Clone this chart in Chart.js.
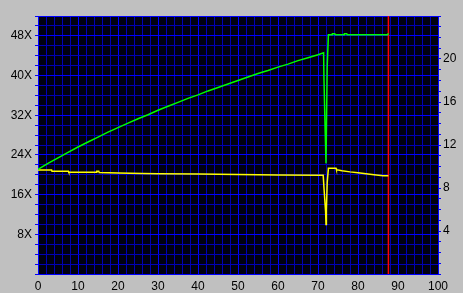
<!DOCTYPE html>
<html>
<head>
<meta charset="utf-8">
<script src="https://cdn.jsdelivr.net/npm/chart.js@4"></script>
<style>
  html, body { margin: 0; padding: 0; background: #c0c0c0; }
  #wrap { width: 463px; height: 293px; }
</style>
</head>
<body>
<div id="wrap"><canvas id="speed-chart" width="463" height="293"></canvas></div>
<script>
// position on disc (%)
const speedPos = [0, 2.5, 5, 7.5, 10, 12.5, 15, 17.5, 20, 22.5, 25, 27.5, 30, 32.5, 35, 37.5, 40,
  42.5, 45, 47.5, 50, 52.5, 55, 57.5, 60, 62.5, 65, 67.5, 70, 71.4, 71.5, 71.8, 72.0, 72.2, 72.3,
  72.6, 73.5, 73.6, 74.2, 74.3, 76.5, 76.6, 77.2, 77.3, 87.4, 87.6];
// transfer speed (X), left axis
const speedValues = [21.1, 22.3, 23.4, 24.5, 25.6, 26.6, 27.6, 28.6, 29.5, 30.4, 31.3, 32.1, 33.0,
  33.8, 34.6, 35.4, 36.1, 36.9, 37.6, 38.3, 39.0, 39.7, 40.4, 41.0, 41.7, 42.3, 43.0, 43.6, 44.2,
  44.6, 39.0, 28.5, 22.3, 22.3, 41.8, 48.2, 48.2, 48.4, 48.4, 48.2, 48.2, 48.4, 48.4, 48.2, 48.2, 48.5];

const rotationPos = [0, 3.4, 3.5, 7.6, 7.7, 14.6, 14.7, 15.2, 15.3, 20, 26, 30, 40, 50, 60, 71.3,
  71.5, 71.9, 72.0, 72.1, 72.3, 72.6, 74.5, 74.6, 76, 78, 80, 82, 84, 86.3, 87.6];
// rotation speed, right axis
const rotationValues = [9.67, 9.67, 9.55, 9.55, 9.46, 9.46, 9.55, 9.55, 9.45, 9.4, 9.36, 9.33, 9.3,
  9.25, 9.22, 9.18, 7.97, 5.8, 4.6, 5.95, 8.5, 9.83, 9.83, 9.7, 9.6, 9.5, 9.42, 9.33, 9.24, 9.15, 9.15];

const endMarker = 87.6;

const xTickLabels = [0, 10, 20, 30, 40, 50, 60, 70, 80, 90, 100];
const leftTickLabels = [8, 16, 24, 32, 40, 48];
const rightTickLabels = [4, 8, 12, 16, 20];

const X_MAX = 100;
const LEFT_MAX = 52;
const RIGHT_MAX = 24;

const MAJOR = "#0000ff";
const MINOR = "#0000b4";

function toPoints(xs, ys) {
  return xs.map((x, index) => ({ x, y: ys[index] }));
}

const plotBackground = {
  id: "plotBackground",
  beforeDraw(chart) {
    const { ctx, chartArea } = chart;
    ctx.save();
    ctx.fillStyle = "#000010";
    ctx.fillRect(chartArea.left, chartArea.top,
      chartArea.right - chartArea.left, chartArea.bottom - chartArea.top);
    ctx.restore();
  },
};

function fixSize(prop, value) {
  return (scale) => {
    scale[prop] = value;
  };
}

Chart.defaults.font.family = "'Liberation Sans', Arial, sans-serif";
Chart.defaults.font.size = 12;
Chart.defaults.color = "#000000";

new Chart(document.getElementById("speed-chart"), {
  type: "line",
  data: {
    datasets: [
      {
        label: "speed",
        data: toPoints(speedPos, speedValues),
        yAxisID: "y",
        borderColor: "#00ff00",
        borderWidth: 1.5,
        pointRadius: 0,
        tension: 0,
      },
      {
        label: "rotation",
        data: toPoints(rotationPos, rotationValues),
        yAxisID: "y1",
        borderColor: "#ffff00",
        borderWidth: 1.5,
        pointRadius: 0,
        tension: 0,
      },
      {
        label: "end",
        data: [{ x: endMarker, y: 0 }, { x: endMarker, y: LEFT_MAX }],
        yAxisID: "y",
        borderColor: "#ff0000",
        borderWidth: 1.5,
        pointRadius: 0,
      },
    ],
  },
  options: {
    responsive: false,
    animation: false,
    events: [],
    layout: { padding: { top: 16, left: 0, right: 0, bottom: 0 } },
    plugins: { legend: { display: false }, tooltip: { enabled: false } },
    scales: {
      x: {
        type: "linear",
        min: 0,
        max: X_MAX,
        afterFit: fixSize("height", 19),
        border: { color: MAJOR, width: 1 },
        grid: {
          drawTicks: false,
          color: (c) => (c.tick.value % 10 === 0 ? MAJOR : MINOR),
        },
        ticks: {
          stepSize: 2,
          autoSkip: false,
          maxRotation: 0,
          padding: 5,
          callback: (value) => (xTickLabels.includes(value) ? String(value) : ""),
        },
      },
      y: {
        type: "linear",
        position: "left",
        min: 0,
        max: LEFT_MAX,
        afterFit: fixSize("width", 38),
        border: { color: MAJOR, width: 1 },
        grid: {
          tickLength: 3,
          tickColor: MAJOR,
          color: (c) =>
            c.tick.value % 8 === 0 || c.tick.value === LEFT_MAX ? MAJOR : MINOR,
        },
        ticks: {
          stepSize: 2,
          autoSkip: false,
          padding: 3,
          callback: (value) => (leftTickLabels.includes(value) ? `${value}X` : ""),
        },
      },
      y1: {
        type: "linear",
        position: "right",
        min: 0,
        max: RIGHT_MAX,
        afterFit: fixSize("width", 25),
        border: { color: MAJOR, width: 1 },
        grid: {
          drawOnChartArea: false,
          tickLength: 3,
          tickColor: MAJOR,
          color: MAJOR,
        },
        ticks: {
          stepSize: 1,
          autoSkip: false,
          padding: 2,
          callback: (value) => (rightTickLabels.includes(value) ? String(value) : ""),
        },
      },
    },
  },
  plugins: [plotBackground],
});
</script>
</body>
</html>
